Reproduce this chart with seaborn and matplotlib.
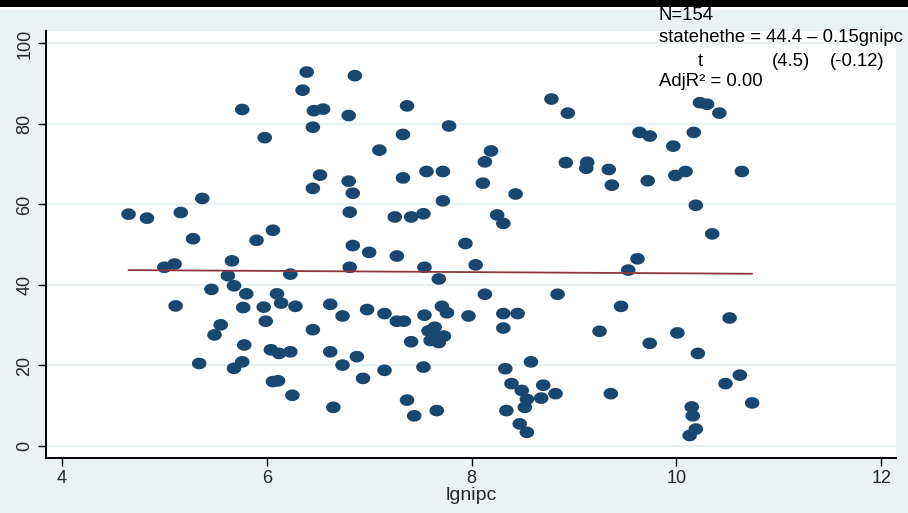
import numpy as np
import pandas as pd
import matplotlib
matplotlib.use("Agg")
import matplotlib.pyplot as plt
from matplotlib.path import Path
from matplotlib.patches import Rectangle
import seaborn as sns

# ---- data ----
lgnipc = [
    4.65, 4.83, 5.16, 5.37, 5.28, 5.76, 5.98, 5.90, 6.06, 6.39, 6.35, 6.46, 6.55, 6.45, 6.52, 6.45,
    5.00, 5.10, 5.66, 5.62, 6.23, 5.46, 5.68, 5.80, 5.11, 5.77, 5.97, 6.10, 6.14, 6.28, 6.62,
    5.99, 5.55, 5.49, 6.45, 5.78, 6.04, 6.12, 6.23, 6.62, 5.34, 5.76, 5.68, 6.06, 6.11, 6.25, 6.65,
    6.86, 6.80, 7.37, 7.78, 8.78, 7.33, 7.10, 8.19, 8.13, 6.80, 6.84, 7.33, 7.56, 7.72, 8.11, 8.43,
    7.72, 6.81, 7.25, 7.41, 7.53, 8.25, 8.31, 6.84, 7.00, 7.27, 7.94,
    6.81, 7.54, 8.04, 7.68, 6.74, 6.98, 7.15, 7.27, 7.34, 7.54, 7.71, 7.76, 7.97, 8.13, 8.31, 8.45,
    8.31, 7.64, 7.58, 7.73, 7.60, 7.68, 7.63, 7.41, 6.88, 6.74, 7.15, 7.53, 6.94, 8.33, 8.58, 8.39,
    8.49, 8.70, 8.68, 8.54, 8.52, 7.37, 7.44, 7.66, 8.34, 8.47, 8.54,
    8.94, 10.23, 10.30, 10.42, 9.64, 9.74, 10.17, 9.97, 8.92, 9.13, 9.12, 9.34, 9.37, 9.72, 9.99,
    10.09, 10.64, 10.19, 10.35, 9.62, 9.53,
    8.84, 9.46, 9.25, 9.74, 10.01, 10.21, 10.52, 8.82, 9.36, 10.62, 10.48, 10.74, 10.15, 10.16,
    10.19, 10.13,
]
statehethe = [
    57.6, 56.6, 58.0, 61.5, 51.5, 83.6, 76.6, 51.1, 53.6, 92.9, 88.4, 83.3, 83.7, 79.2, 67.3, 64.0,
    44.4, 45.2, 46.0, 42.3, 42.7, 38.9, 39.8, 37.8, 34.8, 34.4, 34.5, 37.8, 35.5, 34.7, 35.2,
    31.0, 30.1, 27.6, 28.9, 25.1, 23.9, 23.0, 23.4, 23.4, 20.5, 20.9, 19.3, 16.0, 16.2, 12.6, 9.6,
    92.0, 82.1, 84.5, 79.5, 86.2, 77.4, 73.5, 73.3, 70.6, 65.8, 62.8, 66.6, 68.2, 68.2, 65.3, 62.6,
    60.9, 58.1, 56.9, 56.9, 57.7, 57.4, 55.3, 49.8, 48.1, 47.2, 50.3,
    44.4, 44.4, 45.0, 41.5, 32.3, 33.9, 32.9, 31.0, 31.0, 32.5, 34.7, 33.1, 32.3, 37.7, 32.9, 32.9,
    29.3, 29.5, 28.6, 27.3, 26.2, 25.7, 27.6, 25.9, 22.2, 20.1, 18.8, 19.6, 16.8, 19.2, 20.9, 15.5,
    13.8, 15.1, 11.9, 11.6, 9.6, 11.4, 7.5, 8.8, 8.8, 5.5, 3.4,
    82.7, 85.3, 84.9, 82.7, 77.9, 77.0, 77.9, 74.5, 70.4, 70.5, 69.0, 68.7, 64.8, 65.9, 67.2,
    68.2, 68.2, 59.8, 52.7, 46.5, 43.7,
    37.7, 34.7, 28.5, 25.5, 28.1, 23.0, 31.8, 13.0, 13.0, 17.6, 15.5, 10.7, 9.7, 7.5,
    4.2, 2.6,
]
fit_intercept = 44.4
fit_slope = -0.15
x_ticks = [4, 6, 8, 10, 12]
y_ticks = [0, 20, 40, 60, 80, 100]
ann_n = "N=154"
ann_eq = "statehethe = 44.4 \u2013 0.15gnipc"
ann_t = ["t", "(4.5)", "(-0.12)"]
ann_r2 = "AdjR\u00b2 = 0.00"

df = pd.DataFrame({"lgnipc": lgnipc, "statehethe": statehethe})

# ---- style ----
sns.set_style("white")
plt.rcParams["font.family"] = ["Liberation Sans", "DejaVu Sans"]

BG = "#EAF2F3"
NAVY = "#1A476F"
MAROON = "#90353B"
W, H = 908, 513

fig = plt.figure(figsize=(W / 100, H / 100), dpi=100, facecolor=BG)

# top black band (cropped title area)
fig.patches.append(Rectangle((0, 1 - 10 / H), 1, 3 / H, transform=fig.transFigure,
                             facecolor="white", edgecolor="none", zorder=0))
fig.patches.append(Rectangle((0, 1 - 7 / H), 1, 7 / H, transform=fig.transFigure,
                             facecolor="black", edgecolor="none", zorder=0))

left, right, top, bottom = 46, 896, 31, 457.5
ax = fig.add_axes([left / W, (H - bottom) / H, (right - left) / W, (bottom - top) / H])
ax.set_facecolor("white")

# elliptical marker
theta = np.linspace(0, 2 * np.pi, 60)
ell = Path(np.column_stack([np.cos(theta), 0.8 * np.sin(theta)]), closed=True)

sns.scatterplot(data=df, x="lgnipc", y="statehethe", ax=ax, marker=ell, s=110,
                color=NAVY, edgecolor="none", linewidth=0, zorder=3)

xs = np.array([min(lgnipc), max(lgnipc)])
fit_df = pd.DataFrame({"x": xs, "y": fit_intercept + fit_slope * xs})
sns.lineplot(data=fit_df, x="x", y="y", ax=ax, color=MAROON, linewidth=1.3, zorder=4)

ax.set_xlim(3.844, 12.145)
ax.set_ylim(-2.86, 103.1)
ax.set_xticks(x_ticks)
ax.set_yticks(y_ticks)
ax.set_xticklabels([str(t) for t in x_ticks], fontsize=13)
ax.set_yticklabels([str(t) for t in y_ticks], fontsize=13, rotation=90, va="center")
ax.yaxis.grid(True, color=BG, linewidth=1.6)
ax.xaxis.grid(False)
ax.set_axisbelow(True)
for s in ["top", "right"]:
    ax.spines[s].set_visible(False)
for s in ["left", "bottom"]:
    ax.spines[s].set_color("black")
    ax.spines[s].set_linewidth(1.4)
ax.tick_params(axis="both", direction="out", length=6, width=1.0, color="black",
               bottom=True, left=True, top=False, right=False)
ax.tick_params(axis="y", pad=3)
ax.tick_params(axis="x", pad=3)
ax.set_xlabel("lgnipc", fontsize=14, labelpad=0)
ax.set_ylabel("")

# annotation (figure pixel coords)
def ftxt(px, py, s, **kw):
    fig.text(px / W, 1 - py / H, s, fontsize=13.3, va="center", color="black", **kw)

ftxt(659, 16, ann_n)
ftxt(659, 38, ann_eq)
ftxt(700, 61, ann_t[0], ha="center")
ftxt(772, 61, ann_t[1])
ftxt(830, 61, ann_t[2])
ftxt(659, 82, ann_r2)

fig.savefig("out.png", dpi=100, facecolor=BG)
